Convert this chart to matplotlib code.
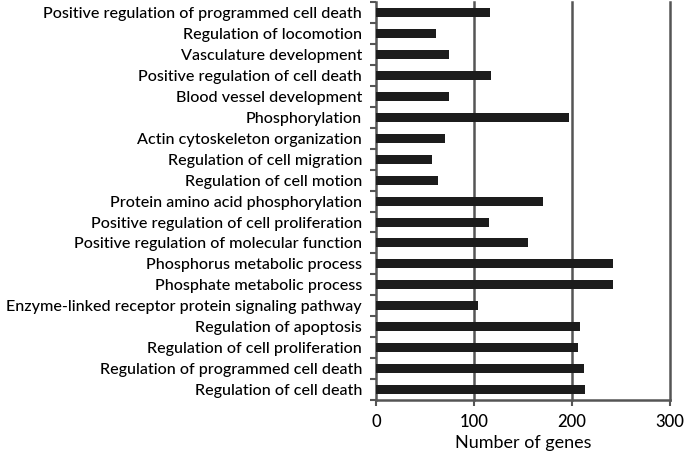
import numpy as np
import matplotlib
matplotlib.use('Agg')
import matplotlib.pyplot as plt

# Categories, top to bottom as in the figure
categories = [
    'Positive regulation of programmed cell death',
    'Regulation of locomotion',
    'Vasculature development',
    'Positive regulation of cell death',
    'Blood vessel development',
    'Phosphorylation',
    'Actin cytoskeleton organization',
    'Regulation of cell migration',
    'Regulation of cell motion',
    'Protein amino acid phosphorylation',
    'Positive regulation of cell proliferation',
    'Positive regulation of molecular function',
    'Phosphorus metabolic process',
    'Phosphate metabolic process',
    'Enzyme-linked receptor protein signaling pathway',
    'Regulation of apoptosis',
    'Regulation of cell proliferation',
    'Regulation of programmed cell death',
    'Regulation of cell death',
]
gene_counts = [116, 61, 75, 117, 74, 197, 70, 57, 63, 170,
               115, 155, 242, 242, 104, 208, 206, 212, 213]
x_ticks = [0, 100, 200, 300]

plt.rcParams['font.family'] = ['Lato', 'DejaVu Sans']
plt.rcParams['font.weight'] = 'medium'

fig = plt.figure(figsize=(6.84, 4.57), dpi=100)
ax = fig.add_axes([0.5497, 0.125, 0.4298, 0.87])

y = np.arange(len(categories))
ax.barh(y, gene_counts, height=0.43, color='#1c1c1c', zorder=3)

ax.set_xlim(0, 300)
ax.set_ylim(len(categories) - 0.5, -0.5)
ax.set_xticks(x_ticks)
ax.set_xticklabels([str(t) for t in x_ticks], fontsize=12)
ax.set_yticks(y)
ax.set_yticklabels(categories, fontsize=11.6)
ax.set_yticks(np.arange(-0.5, len(categories)), minor=True)
ax.tick_params(axis='y', which='major', length=0, pad=10)
ax.tick_params(axis='y', which='minor', length=4, width=1.5, color='#555555')
ax.tick_params(axis='x', length=4, width=1.5, color='#555555', pad=6)

# vertical gridlines, not clipped so the one at 300 is full width
for t in x_ticks[1:]:
    ax.axvline(t, color='#555555', linewidth=1.8, zorder=1, clip_on=False)

for s in ['top', 'right']:
    ax.spines[s].set_visible(False)
for s in ['left', 'bottom']:
    ax.spines[s].set_color('#555555')
    ax.spines[s].set_linewidth(1.8)

ax.set_xlabel('Number of genes', fontsize=13, labelpad=4)

fig.savefig('out.png', dpi=100)
